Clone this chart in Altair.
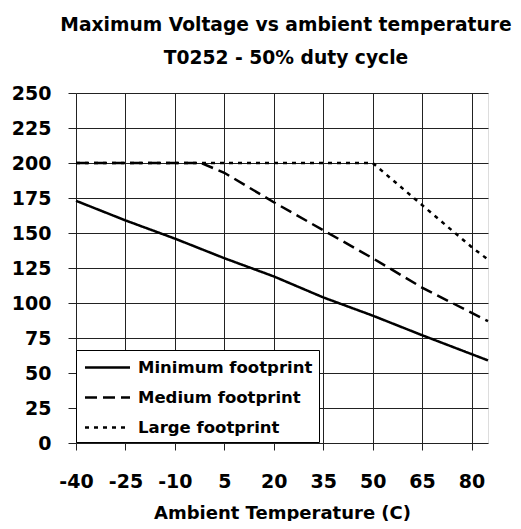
import altair as alt
import pandas as pd

series_names = ["Minimum footprint", "Medium footprint", "Large footprint"]

min_temp = [-40, -25, -10, 5, 20, 35, 50, 65, 85]
min_volt = [173, 159, 146, 132, 119, 104, 91, 77, 59]

med_temp = [-40, -2, 5, 20, 35, 50, 65, 85]
med_volt = [200, 200, 193, 172, 152, 132, 111, 87]

large_temp = [-40, 50, 65, 80, 85]
large_volt = [200, 200, 170, 140, 131]

x_ticks = [-40, -25, -10, 5, 20, 35, 50, 65, 80]
y_ticks = [0, 25, 50, 75, 100, 125, 150, 175, 200, 225, 250]

rows = []
for name, ts, vs in zip(series_names, [min_temp, med_temp, large_temp], [min_volt, med_volt, large_volt]):
    for t, v in zip(ts, vs):
        rows.append({"series": name, "temp": t, "volt": v})
df = pd.DataFrame(rows)

FONT = "DejaVu Sans"

chart = alt.Chart(df).mark_line(strokeWidth=2.5, color="black").encode(
    x=alt.X("temp:Q",
            scale=alt.Scale(domain=[-40, 85], nice=False, zero=False),
            axis=alt.Axis(values=x_ticks, title="Ambient Temperature (C)",
                          labelExpr="'' + datum.value",
                          grid=True, gridColor="#222222", gridWidth=1,
                          domain=False, tickColor="#222222", tickSize=7,
                          labelOverlap=False, labelFlush=False,
                          labelFont=FONT, labelFontSize=19, labelFontWeight="bold",
                          labelColor="black", labelPadding=22,
                          titleFont=FONT, titleFontSize=18, titleFontWeight="bold",
                          titleColor="black", titlePadding=13)),
    y=alt.Y("volt:Q",
            scale=alt.Scale(domain=[0, 250], nice=False),
            axis=alt.Axis(values=y_ticks, title=None,
                          grid=True, gridColor="#222222", gridWidth=1,
                          domain=False, tickColor="#222222", tickSize=8,
                          labelOverlap=False, labelFlush=False,
                          labelFont=FONT, labelFontSize=19, labelFontWeight="bold",
                          labelColor="black", labelPadding=17)),
    strokeDash=alt.StrokeDash("series:N",
                              scale=alt.Scale(domain=series_names,
                                              range=[[1, 0], [12, 6], [4, 5]]),
                              sort=series_names,
                              legend=alt.Legend(orient="none", legendX=0, legendY=257,
                                                title=None, fillColor="white",
                                                strokeColor="black",
                                                padding=6,
                                                symbolType="M-2.25,0H2.25",
                                                symbolSize=400, symbolStrokeWidth=2.5,
                                                symbolStrokeColor="black",
                                                symbolOffset=14,
                                                labelFont=FONT, labelFontSize=16.5,
                                                labelFontWeight="bold", labelColor="black",
                                                labelOffset=19, labelLimit=260,
                                                rowPadding=10)),
).properties(
    width=412,
    height=350,
    title=alt.Title(["Maximum Voltage vs ambient temperature", "T0252 - 50% duty cycle"],
                    font=FONT, fontSize=18.7, fontWeight="bold", color="black",
                    lineHeight=33, offset=16, anchor="middle", dx=4),
    autosize=alt.AutoSizeParams(type="none"),
    padding={"left": 68, "top": 85, "right": 25, "bottom": 78},
).configure_view(
    stroke="black", strokeWidth=3
).configure(background="white")

chart.save("out.html", embed_options={"renderer": "svg", "actions": False})
